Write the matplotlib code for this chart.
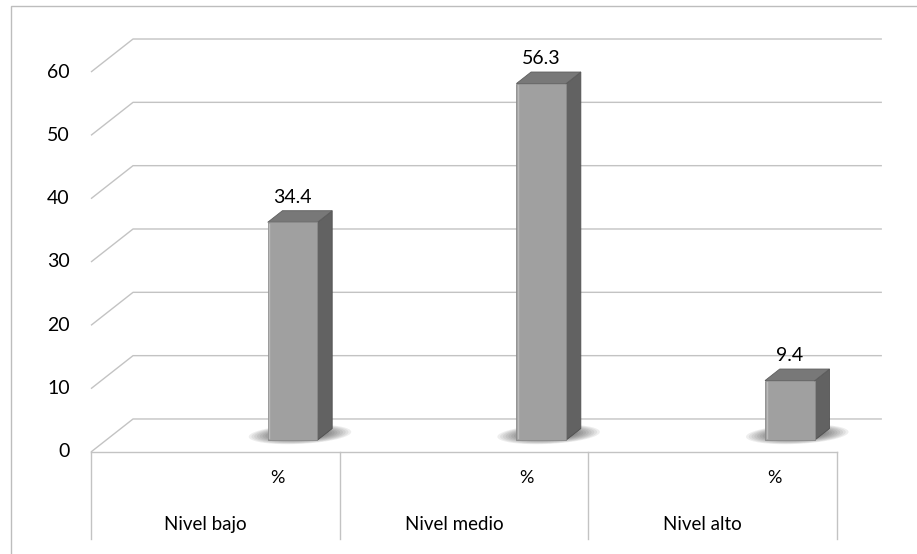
import numpy as np
import matplotlib.pyplot as plt
from matplotlib.patches import Polygon, Rectangle

# data
groups = ["Nivel bajo", "Nivel medio", "Nivel alto"]
series_label = "%"
values = [34.4, 56.3, 9.4]
y_ticks = [0, 10, 20, 30, 40, 50, 60]

# 3d look: depth offsets (x in slot units, y in value units)
DX, DY = 0.338, 5.21          # full floor depth
BAR_Z0, BAR_Z1 = 0.36, 0.71    # bar front / back as fraction of depth
BAR_W = 0.40                   # bar width as fraction of a slot
N_SLOTS = 2 * len(groups)

GRID = "#c3c3c3"
FONT = "Lato"
TXT = "#000000"

fig = plt.figure(figsize=(9.17, 5.54), dpi=100)
ax = fig.add_axes([0, 0, 1, 1])
ax.set_xlim(-0.732, 6.644)
ax.set_ylim(-16.11, 71.37)
ax.axis("off")

# outer chart frame
fig.patches.append(Rectangle((11 / 917, -0.05), 1.0, 1 - 6 / 554 + 0.05,
                             transform=fig.transFigure, fill=False,
                             edgecolor="#bdbdbd", linewidth=1.0))

# back wall gridlines with left-side wall diagonals
right_end = N_SLOTS + DX * 1.07
for t in y_ticks:
    ax.plot([0, DX, right_end], [t, t + DY, t + DY], color=GRID, lw=1.0,
            solid_capstyle="butt", zorder=1)
    ax.text(-0.17, t, str(t), ha="right", va="center", fontsize=14,
            family=FONT, color=TXT)

# category axis: floor front edge, dividers and labels
ax.plot([0, N_SLOTS], [0, 0], color=GRID, lw=1.0, zorder=2)
for g in range(len(groups) + 1):
    ax.plot([2 * g, 2 * g], [0, -13.7], color=GRID, lw=1.0, zorder=2)


def floor_shadow(cx, cz, ax_x, ax_z):
    """Ellipse lying in the floor plane (x across, z into depth)."""
    t = np.linspace(0, 2 * np.pi, 60)
    xs = cx + ax_x * np.cos(t) + (cz + ax_z * np.sin(t)) * DX
    ys = (cz + ax_z * np.sin(t)) * DY
    return np.column_stack([xs, ys])


for i, (name, v) in enumerate(zip(groups, values)):
    slot = 2 * i + 1
    ax.text(slot + 0.5, -4.1, series_label, ha="center", va="center",
            fontsize=13, family=FONT, color=TXT)
    ax.text(2 * i + 0.92, -11.4, name, ha="center", va="center",
            fontsize=13.5, family=FONT, color=TXT)

    # bar geometry
    xc = slot + 0.5
    x0 = xc - BAR_W / 2 + BAR_Z0 * DX
    x1 = x0 + BAR_W
    y0 = BAR_Z0 * DY
    sx = (BAR_Z1 - BAR_Z0) * DX
    sy = (BAR_Z1 - BAR_Z0) * DY

    # soft shadow on the floor, many faint layers so it fades out smoothly
    zc = (BAR_Z0 + BAR_Z1) / 2
    for s in np.linspace(1.0, 0.3, 14):
        ax.add_patch(Polygon(floor_shadow(xc, zc, 0.40 * s, 0.30 * s),
                             closed=True, facecolor="#1a1a1a",
                             edgecolor="none", alpha=0.07, zorder=3))

    front = [(x0, y0), (x1, y0), (x1, y0 + v), (x0, y0 + v)]
    side = [(x1, y0), (x1 + sx, y0 + sy), (x1 + sx, y0 + sy + v), (x1, y0 + v)]
    top = [(x0, y0 + v), (x1, y0 + v), (x1 + sx, y0 + sy + v), (x0 + sx, y0 + sy + v)]
    ax.add_patch(Polygon(side, closed=True, facecolor="#626262",
                         edgecolor="#4e4e4e", lw=0.6, zorder=4))
    ax.add_patch(Polygon(top, closed=True, facecolor="#787878",
                         edgecolor="#5e5e5e", lw=0.6, zorder=4))
    ax.add_patch(Polygon(front, closed=True, facecolor="#a0a0a0",
                         edgecolor="#8a8a8a", lw=0.6, zorder=5))
    # light highlight along the front left edge
    ax.plot([x0 + 0.012, x0 + 0.012], [y0 + 0.3, y0 + v - 0.3],
            color="#bababa", lw=1.0, zorder=6)

    ax.text(x0 + BAR_W / 2, y0 + v + sy + 2.1, f"{v}", ha="center",
            va="center", fontsize=14, family=FONT, color=TXT, zorder=7)

fig.savefig("out.png", dpi=100, facecolor="white")
